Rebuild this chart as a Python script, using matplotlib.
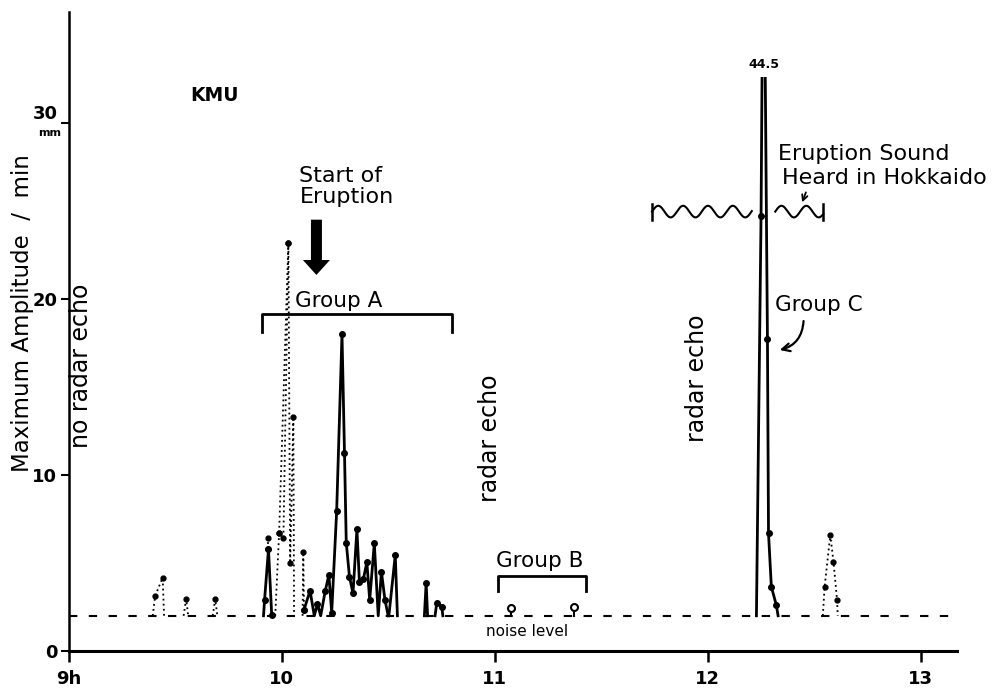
import numpy as np
import matplotlib
matplotlib.use("Agg")
import matplotlib.pyplot as plt
from matplotlib.patches import FancyArrow, Rectangle

plt.rcParams['font.family'] = ['DejaVu Sans']

NOISE = 2.0

# ---- data: time in minutes after 09:00, amplitude in mm ----
solid1_t = [54.9, 55.2, 56.3, 57.2]
solid1_v = [2.0, 2.90, 5.78, 2.05]
solid2_t = [66.3, 68.0, 69.2, 70.1, 71.0, 72.3, 73.3, 74.1, 75.5, 77.0, 77.7, 78.2,
            79.1, 80.1, 81.2, 81.9, 83.0, 84.0, 84.8, 86.1, 87.2, 88.1, 89.1, 90.0]
solid2_v = [2.33, 3.43, 2.0, 2.67, 2.0, 3.43, 4.32, 2.18, 7.95, 18.0, 11.27, 6.15,
            4.22, 3.28, 6.91, 3.94, 4.07, 5.04, 2.90, 6.12, 2.0, 4.5, 2.90, 2.0]
solid3_t = [90.2, 92.0, 92.6]
solid3_v = [2.0, 5.45, 2.0]
solid4_t = [100.2, 100.7, 101.1]
solid4_v = [2.0, 3.88, 2.0]
solid5_t = [103.2, 103.7, 105.1, 105.4]
solid5_v = [2.0, 2.74, 2.52, 2.0]
groupC_t = [193.7, 195.0, 195.7, 196.8, 197.1, 197.9, 199.3, 199.8]
groupC_v = [2.0, 24.7, 44.5, 17.7, 6.69, 3.65, 2.61, 2.0]

dot1_t = [23.7, 24.4, 26.5, 26.9]
dot1_v = [2.0, 3.14, 4.16, 2.0]
dot2_t = [32.4, 33.1, 33.7]
dot2_v = [2.0, 2.95, 2.0]
dot3_t = [40.6, 41.3, 41.9]
dot3_v = [2.0, 2.95, 2.0]
dot4_t = [56.3, 56.3]
dot4_v = [5.78, 6.40]
dot5_t = [58.2, 59.3, 60.5, 61.9, 62.4, 63.3, 63.5]
dot5_v = [2.0, 6.72, 6.40, 23.2, 4.98, 13.3, 2.0]
dot6_t = [59.3, 61.9]
dot6_v = [6.72, 23.2]
dot7_t = [65.9, 66.1, 66.3]
dot7_v = [2.0, 5.61, 2.33]
dot8_t = [212.4, 212.9, 214.5, 215.4, 216.4, 216.6]
dot8_v = [2.0, 3.65, 6.59, 5.07, 2.90, 2.0]

groupB_t = [124.6, 142.2]
groupB_v = [2.43, 2.52]

noise_t = [0.0, 248.0]

x_ticks = [9, 10, 11, 12, 13]
x_tick_labels = ["9h", "10", "11", "12", "13"]
y_ticks = [0, 10, 20, 30]
y_tick_labels = ["0", "10", "20", "30"]

PEAK_LABEL = "44.5"
PEAK_CLIP = 32.6


def h(m):
    return 9.0 + np.asarray(m, dtype=float) / 60.0


fig = plt.figure(figsize=(9.92, 6.91), dpi=100)
ax = fig.add_axes([0.0691, 0.0579, 0.8957, 0.9248])
ax.set_xlim(9, 13.17)
ax.set_ylim(0, 36.3)
for s in ['top', 'right']:
    ax.spines[s].set_visible(False)
ax.spines['left'].set_linewidth(1.8)
ax.spines['bottom'].set_linewidth(2.2)
ax.set_xticks(x_ticks)
ax.set_xticklabels(x_tick_labels, fontsize=13, fontweight='bold')
ax.set_yticks(y_ticks)
ax.set_yticklabels(y_tick_labels, fontsize=13, fontweight='bold')
ax.tick_params(axis='x', direction='out', length=8, width=1.8, pad=6)
ax.tick_params(axis='y', direction='out', length=6, width=1.5, pad=2)
for lab in ax.get_yticklabels():
    if lab.get_text() == "30":
        lab.set_va('bottom')

# noise level
ax.plot(h(noise_t), [NOISE, NOISE], color='k', lw=1.5, dashes=(4, 5.5))
ax.text(h(129.1), 1.1, "noise level", fontsize=11, ha='center', va='center')

# solid segments
for t, v in [(solid1_t, solid1_v), (solid2_t, solid2_v), (solid3_t, solid3_v),
             (solid4_t, solid4_v), (solid5_t, solid5_v)]:
    t = np.asarray(t); v = np.asarray(v)
    ax.plot(h(t), v, color='k', lw=2.0)
    m = v > NOISE + 0.01
    ax.plot(h(t[m]), v[m], 'o', color='k', ms=4)

# dotted segments
for t, v in [(dot1_t, dot1_v), (dot2_t, dot2_v), (dot3_t, dot3_v), (dot4_t, dot4_v),
             (dot5_t, dot5_v), (dot6_t, dot6_v), (dot7_t, dot7_v), (dot8_t, dot8_v)]:
    t = np.asarray(t); v = np.asarray(v)
    ax.plot(h(t), v, color='k', lw=1.3, ls=(0, (1, 1.8)))
    m = v > NOISE + 0.01
    ax.plot(h(t[m]), v[m], 'o', color='k', ms=3.5)

# group C (clipped peak)
gt = np.asarray(groupC_t); gv = np.asarray(groupC_v)
line, = ax.plot(h(gt), gv, color='k', lw=2.0)
clip = Rectangle((9, -1), 5, PEAK_CLIP + 1, transform=ax.transData)
line.set_clip_path(clip)
m = (gv > NOISE + 0.01) & (gv < PEAK_CLIP)
ax.plot(h(gt[m]), gv[m], 'o', color='k', ms=4)
ax.text(h(195.7), 33.3, PEAK_LABEL, fontsize=9, fontweight='bold', ha='center', va='center')

# group B points
for t, v in zip(groupB_t, groupB_v):
    ax.plot([h(t), h(t)], [NOISE, v], color='k', lw=1.5)
    ax.plot([h(t)], [v], 'o', ms=5, mfc='white', mec='k', mew=1.5)

# brackets
def bracket(t0, t1, top, end):
    ax.plot(h([t0, t0, t1, t1]), [end, top, top, end], color='k', lw=2.0)

bracket(54.6, 107.9, 19.13, 18.14)
ax.text(h(76.1), 19.53, "Group A", fontsize=15.5, ha='center', va='baseline')
bracket(120.9, 145.7, 4.26, 3.43)
ax.text(h(132.8), 4.76, "Group B", fontsize=15.5, ha='center', va='baseline')
ax.text(h(199.0), 19.3, "Group C", fontsize=15.5, ha='left', va='baseline')
ax.annotate("", xy=(h(199.5), 17.06), xytext=(h(207.0), 18.9),
            arrowprops=dict(arrowstyle='->', lw=1.6, color='k',
                            connectionstyle='arc3,rad=-0.4', mutation_scale=14))

# vertical labels
ax.text(h(3.5), 16.2, "no radar echo", fontsize=17, rotation=90, ha='center', va='center')
ax.text(h(118.7), 12.1, "radar echo", fontsize=17, rotation=90, ha='center', va='center')
ax.text(h(177.0), 15.5, "radar echo", fontsize=17, rotation=90, ha='center', va='center')

# KMU
ax.text(h(41.0), 31.56, "KMU", fontsize=13.5, fontweight='bold', ha='center', va='center')

# start of eruption
ax.text(h(65.0), 27.56, "Start of\nEruption", fontsize=16, ha='left', va='top',
        linespacing=1.05)
arr = FancyArrow(h(69.8), 24.5, 0, -(24.5 - 21.36), width=0.0516, head_width=0.127,
                 head_length=0.85, length_includes_head=True, color='k', lw=0)
ax.add_patch(arr)

# eruption sound
ax.text(h(199.9), 27.9, "Eruption Sound", fontsize=16, ha='left', va='baseline')
ax.text(h(200.9), 26.5, "Heard in Hokkaido", fontsize=16, ha='left', va='baseline')
ax.annotate("", xy=(h(206.3), 25.34), xytext=(h(207.9), 26.2),
            arrowprops=dict(arrowstyle='->', lw=1.3, color='k', mutation_scale=10))

WAVE_Y = 24.96
wave1 = (164.3, 192.4)
wave2 = (199.0, 212.5)
for (t0, t1) in (wave1, wave2):
    tt = np.linspace(t0, t1, 300)
    ax.plot(h(tt), WAVE_Y + 0.33 * np.sin(2 * np.pi * (tt - t0) / 7.0), color='k', lw=1.5)
ax.plot([h(wave1[0])] * 2, [WAVE_Y - 0.45, WAVE_Y + 0.45], color='k', lw=1.8)
ax.plot([h(wave2[1])] * 2, [WAVE_Y - 0.45, WAVE_Y + 0.45], color='k', lw=1.8)

# y label and unit
fig.text(22.5 / 992, 1 - 313.5 / 691, "Maximum Amplitude  /  min", rotation=90,
         ha='center', va='center', fontsize=16.5)
fig.text(50 / 992, 1 - 133 / 691, "mm", ha='center', va='center', fontsize=8,
         fontweight='bold')

fig.savefig("out.png", dpi=100)
